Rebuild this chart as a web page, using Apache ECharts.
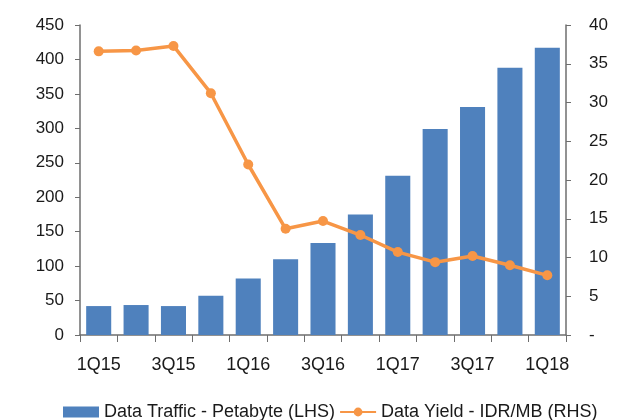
<!DOCTYPE html>
<html>
<head>
<meta charset="utf-8">
<script src="https://cdn.jsdelivr.net/npm/echarts@6/dist/echarts.min.js"></script>
<style>
  html, body { margin: 0; padding: 0; background: #fff; }
  #main { width: 629px; height: 420px; }
</style>
</head>
<body>
<div id="main"></div>
<script>
const quarters = ['1Q15','2Q15','3Q15','4Q15','1Q16','2Q16','3Q16','4Q16','1Q17','2Q17','3Q17','4Q17','1Q18'];
const trafficPB = [42, 43.5, 42, 57, 82, 110, 133.5, 175, 231, 299, 331, 388, 417];
const yieldIdrMb = [36.6, 36.7, 37.3, 31.2, 22.0, 13.7, 14.7, 12.9, 10.7, 9.4, 10.2, 9.0, 7.7];

const chart = echarts.init(document.getElementById('main'));
const axisColor = '#6e6e6e';
const font = '"Liberation Sans", Arial, sans-serif';

chart.setOption({
  animation: false,
  textStyle: { fontFamily: font },
  grid: { left: 80, right: 63, top: 25, bottom: 85 },
  legend: {
    top: 398,
    left: 58,
    itemWidth: 36,
    itemHeight: 11,
    itemGap: 4,
    textStyle: { fontSize: 18, color: '#1a1a1a', fontFamily: font },
    data: [
      { name: 'Data Traffic - Petabyte (LHS)', icon: 'rect' },
      { name: 'Data Yield - IDR/MB (RHS)' }
    ]
  },
  xAxis: {
    type: 'category',
    data: quarters,
    axisLine: { lineStyle: { color: axisColor, width: 1.5 } },
    axisTick: { show: true, interval: 0, length: 7, lineStyle: { color: axisColor } },
    axisLabel: { interval: 1, fontSize: 18, color: '#1a1a1a', margin: 21 }
  },
  yAxis: [
    {
      type: 'value',
      min: 0, max: 450, interval: 50,
      splitLine: { show: false },
      axisLine: { show: true, lineStyle: { color: axisColor, width: 1.5 } },
      axisTick: { show: true, length: 5, lineStyle: { color: axisColor } },
      axisLabel: { fontSize: 17, color: '#1a1a1a', margin: 16 }
    },
    {
      type: 'value',
      min: 0, max: 40, interval: 5,
      splitLine: { show: false },
      axisLine: { show: true, lineStyle: { color: axisColor, width: 1.5 } },
      axisTick: { show: true, length: 5, lineStyle: { color: axisColor } },
      axisLabel: {
        fontSize: 17, color: '#1a1a1a', margin: 23,
        formatter: v => v === 0 ? '-' : String(v)
      }
    }
  ],
  series: [
    {
      name: 'Data Traffic - Petabyte (LHS)',
      type: 'bar',
      data: trafficPB,
      barCategoryGap: '33%',
      itemStyle: { color: '#4f81bd' }
    },
    {
      name: 'Data Yield - IDR/MB (RHS)',
      type: 'line',
      yAxisIndex: 1,
      data: yieldIdrMb,
      symbol: 'circle',
      symbolSize: 10,
      lineStyle: { color: '#f79646', width: 3.5 },
      itemStyle: { color: '#f79646' }
    }
  ]
});
</script>
</body>
</html>
